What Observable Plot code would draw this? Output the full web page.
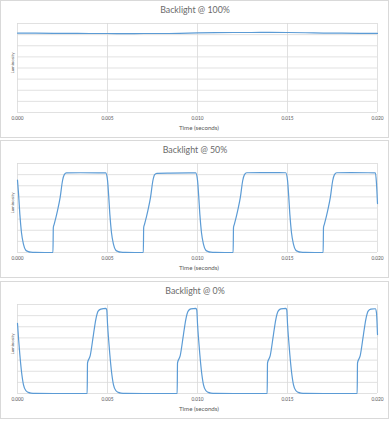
<!DOCTYPE html>
<html><head><meta charset="utf-8">
<script src="https://cdn.jsdelivr.net/npm/d3@7"></script>
<script src="https://cdn.jsdelivr.net/npm/@observablehq/plot@0.6"></script>
<style>
body{margin:0;background:#fff;}
#root{position:relative;width:390px;height:421px;font-family:Lato,"Open Sans",sans-serif;color:#595959;}
.frame{position:absolute;left:0;width:389px;height:138px;box-sizing:border-box;border:1px solid #d9d9d9;}
.title{position:absolute;left:0;width:390px;text-align:center;font-size:8.8px;line-height:1;color:#6a6a6a;}
.xlab{position:absolute;left:0;width:390px;text-align:center;font-size:6.2px;line-height:1;padding-left:4px;}
.ylab{position:absolute;font-size:4.4px;line-height:1;transform:translate(-50%,-50%) rotate(-90deg);white-space:nowrap;}
svg{position:absolute;left:0;}
</style>
</head><body>
<div id="root"></div>
<script>
const titles = ["Backlight @ 100%", "Backlight @ 50%", "Backlight @ 0%"];
const xTicks = [0, 0.005, 0.010, 0.015, 0.020];
const yGrid = [0, 1, 2, 3, 4, 5, 6, 7, 8];

const t100 = [0,0.001,0.002,0.003,0.004,0.005,0.006,0.007,0.008,0.009,0.010,0.011,0.012,0.013,0.014,0.015,0.016,0.017,0.018,0.019,0.020];
const lum100 = [7.14,7.13,7.12,7.11,7.10,7.10,7.09,7.10,7.10,7.12,7.16,7.18,7.19,7.19,7.20,7.19,7.17,7.14,7.13,7.12,7.11];

const t50 = [
0,0.00006,0.00013,0.00022,0.00033,0.00046,0.0006,0.00074,0.001,0.0015,0.00197,0.00199,0.00204,0.00222,0.00237,0.0025,0.0026,0.00272,0.0035,0.0045,0.0049,
0.005,0.00506,0.00513,0.00522,0.00533,0.00546,0.0056,0.00574,0.006,0.0065,0.00699,0.00701,0.00706,0.00724,0.00739,0.00752,0.00762,0.00774,0.0085,0.0095,0.0099,
0.010,0.01006,0.01013,0.01022,0.01033,0.01046,0.0106,0.01074,0.011,0.0115,0.01198,0.012,0.01205,0.01223,0.01238,0.01251,0.01261,0.01273,0.0135,0.0145,0.0149,
0.015,0.01506,0.01513,0.01522,0.01533,0.01546,0.0156,0.01574,0.016,0.0165,0.01698,0.017,0.01705,0.01723,0.01738,0.01751,0.01761,0.01773,0.0185,0.0195,0.01988,0.01994,0.020];
const lum50 = [
6.5,5.25,3.45,1.8,0.75,0.2,0.08,0.03,0.01,0,0,2.25,2.55,3.75,4.95,6.45,7.0,7.15,7.17,7.16,7.15,
6.5,5.25,3.45,1.8,0.75,0.2,0.08,0.03,0.01,0,0,2.25,2.55,3.75,4.95,6.45,7.0,7.12,7.14,7.15,7.15,
6.5,5.25,3.45,1.8,0.75,0.2,0.08,0.03,0.01,0,0,2.25,2.55,3.75,4.95,6.45,7.0,7.17,7.18,7.18,7.17,
6.5,5.25,3.45,1.8,0.75,0.2,0.08,0.03,0.01,0,0,2.25,2.55,3.75,4.95,6.45,7.0,7.17,7.18,7.17,7.15,6.3,4.4];

const t0 = [
0,0.00006,0.00013,0.00022,0.00033,0.00046,0.0006,0.00074,0.001,0.002,0.00387,0.00389,0.00404,0.00422,0.00435,0.00448,0.00463,0.00491,0.00496,
0.005,0.00506,0.00513,0.00522,0.00533,0.00546,0.0056,0.00574,0.006,0.007,0.00887,0.00889,0.00904,0.00922,0.00935,0.00948,0.00963,0.00991,0.00996,
0.010,0.01006,0.01013,0.01022,0.01033,0.01046,0.0106,0.01074,0.011,0.012,0.01387,0.01389,0.01404,0.01422,0.01435,0.01448,0.01463,0.01491,0.01496,
0.015,0.01506,0.01513,0.01522,0.01533,0.01546,0.0156,0.01574,0.016,0.017,0.01887,0.01889,0.01904,0.01922,0.01935,0.01948,0.01963,0.01988,0.01994,0.020];
const lum0 = [
6.3,4.9,3.5,2.0,0.8,0.27,0.1,0.04,0.01,0,0,2.75,3.4,5.3,6.65,7.4,7.58,7.65,7.5,
6.3,4.9,3.5,2.0,0.8,0.27,0.1,0.04,0.01,0,0,2.75,3.4,5.3,6.65,7.4,7.6,7.66,7.5,
6.3,4.9,3.5,2.0,0.8,0.27,0.1,0.04,0.01,0,0,2.75,3.4,5.3,6.65,7.4,7.6,7.65,7.5,
6.3,4.9,3.5,2.0,0.8,0.27,0.1,0.04,0.01,0,0,2.75,3.4,5.3,6.65,7.4,7.58,7.62,7.3,5.3];

const series = [[t100, lum100], [t50, lum50], [t0, lum0]];
const tops = [0, 140, 281];
const root = document.getElementById("root");
const fmt = d3.format(".3f");

series.forEach(([ts, vs], i) => {
  const T = tops[i];
  const data = ts.map((t, k) => ({t, v: vs[k]}));
  const fr = document.createElement("div");
  fr.className = "frame"; fr.style.top = T + "px";
  root.appendChild(fr);
  const svg = Plot.plot({
    width: 390, height: 139,
    marginLeft: 17, marginRight: 13, marginTop: 23, marginBottom: 27,
    style: {fontFamily: "Lato, sans-serif", fontSize: "4.8px", color: "#595959", background: "transparent", overflow: "visible"},
    x: {domain: [0, 0.02]},
    y: {domain: [0, 8], axis: null},
    marks: [
      Plot.gridY(yGrid, {stroke: "#d9d9d9", strokeOpacity: 1, strokeWidth: 0.8}),
      Plot.gridX(xTicks, {stroke: "#d9d9d9", strokeOpacity: 1, strokeWidth: 0.8}),
      Plot.axisX(xTicks, {tickSize: 0, tickPadding: 4, tickFormat: fmt, label: null, fill: "#595959"}),
      Plot.line(data, {x: "t", y: "v", stroke: "#5b9bd5", strokeWidth: 1.2, curve: "monotone-x"})
    ]
  });
  svg.style.top = T + "px";
  root.appendChild(svg);
  const ti = document.createElement("div");
  ti.className = "title"; ti.style.top = (T + 6) + "px"; ti.textContent = titles[i];
  root.appendChild(ti);
  const xl = document.createElement("div");
  xl.className = "xlab"; xl.style.top = (T + 125) + "px"; xl.textContent = "Time (seconds)";
  root.appendChild(xl);
  const yl = document.createElement("div");
  yl.className = "ylab"; yl.style.left = "12.7px"; yl.style.top = (T + 63) + "px"; yl.textContent = "Luminosity";
  root.appendChild(yl);
});
</script>
</body></html>
